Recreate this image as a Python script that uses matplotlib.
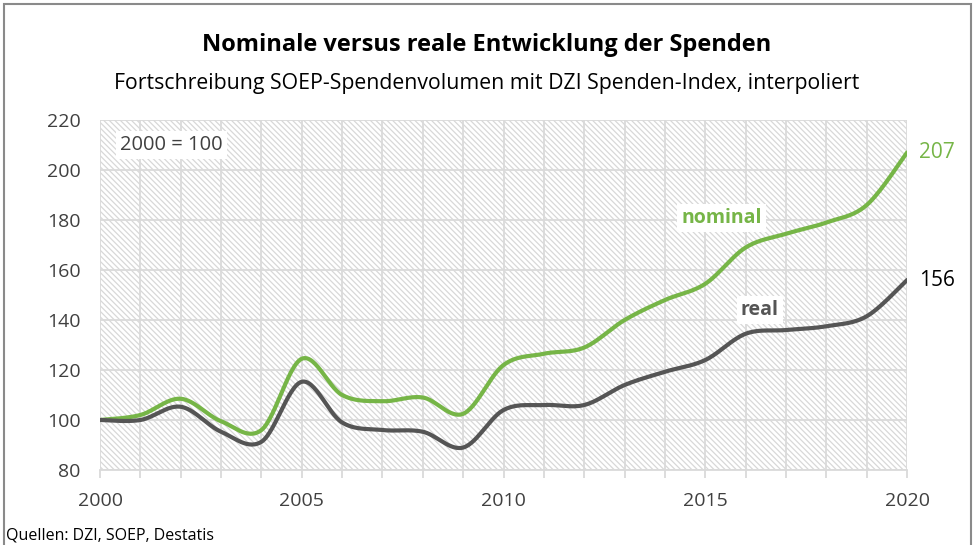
import numpy as np
import matplotlib
matplotlib.use("Agg")
import matplotlib.pyplot as plt
from matplotlib.patches import Rectangle

# Index values, 2000 = 100
years = list(range(2000, 2021))
nominal = [100, 102, 108.5, 99.5, 96, 124.5, 110, 107.5, 109, 102.5, 122,
           126.5, 129, 140, 148, 154.5, 169, 174.5, 179, 186, 207]
real = [100, 100, 105.3, 95.3, 91.3, 115.3, 99, 96, 95.3, 89, 104,
        106, 106, 114, 119.3, 124, 134.5, 136, 137.5, 141.5, 156]

green = "#76b547"
dark = "#555555"
grid_c = "#dadada"
text_c = "#404040"

plt.rcParams['font.family'] = ['Open Sans', 'DejaVu Sans']
plt.rcParams['hatch.linewidth'] = 0.9
plt.rcParams['hatch.color'] = "#d8d8d8"


def smooth(x, y, n=30):
    # Catmull-Rom curve through the yearly points (like Excel's smoothed line)
    x = np.asarray(x, float)
    y = np.asarray(y, float)
    px = np.concatenate([[x[0]], x, [x[-1]]])
    py = np.concatenate([[y[0]], y, [y[-1]]])
    xs, ys = [], []
    t = np.linspace(0, 1, n, endpoint=False)
    for i in range(1, len(px) - 2):
        for p, out in ((px, xs), (py, ys)):
            p0, p1, p2, p3 = p[i - 1], p[i], p[i + 1], p[i + 2]
            out.extend(0.5 * (2 * p1 + (-p0 + p2) * t
                              + (2 * p0 - 5 * p1 + 4 * p2 - p3) * t ** 2
                              + (-p0 + 3 * p1 - 3 * p2 + p3) * t ** 3))
    xs.append(x[-1])
    ys.append(y[-1])
    return xs, ys


fig = plt.figure(figsize=(9.74, 5.45), dpi=100)
ax = fig.add_axes([0.1027, 0.1376, 0.8286, 0.6422])

# hatched plot background
ax.add_patch(Rectangle((0, 0), 1, 1, transform=ax.transAxes, facecolor="white",
                       edgecolor="#d8d8d8", hatch="\\" * 6, linewidth=0, zorder=0))

ax.set_xlim(2000, 2020)
ax.set_ylim(80, 220)
ax.set_xticks(years)
ax.set_xticklabels([str(y) if y % 5 == 0 else "" for y in years])
ax.set_yticks(range(80, 221, 20))
ax.grid(True, color=grid_c, linewidth=1.3, zorder=1)
ax.set_axisbelow(True)
ax.tick_params(axis="x", length=6, color=grid_c, width=1.3, labelsize=14,
               labelcolor=text_c, pad=10)
ax.tick_params(axis="y", length=0, labelsize=14, labelcolor=text_c, pad=14)
for s in ["top", "right", "left"]:
    ax.spines[s].set_visible(False)
ax.spines["bottom"].set_color(grid_c)
ax.spines["bottom"].set_linewidth(1.3)

xs, ys = smooth(years, nominal)
ax.plot(xs, ys, color=green, linewidth=3, zorder=3, solid_capstyle="round")
xs, ys = smooth(years, real)
ax.plot(xs, ys, color=dark, linewidth=3, zorder=3, solid_capstyle="round")

box = dict(facecolor="white", edgecolor="none", pad=3)
ax.text(2000.5, 210, "2000 = 100", fontsize=14.5, color=text_c, va="center",
        bbox=box, zorder=4)
ax.text(2015.4, 180.8, "nominal", fontsize=14, color=green, fontweight="bold",
        ha="center", va="center", bbox=box, zorder=4)
ax.text(2016.35, 144, "real", fontsize=14, color=dark, fontweight="bold",
        ha="center", va="center", bbox=box, zorder=4)
ax.text(2020.3, nominal[-1], f"{nominal[-1]:.0f}", fontsize=15, color=green,
        va="center", ha="left", clip_on=False)
ax.text(2020.3, real[-1], f"{real[-1]:.0f}", fontsize=15, color="black",
        va="center", ha="left", clip_on=False)

fig.text(0.5, 0.918, "Nominale versus reale Entwicklung der Spenden",
         fontsize=17, fontweight="bold", ha="center", va="center")
fig.text(0.5, 0.846, "Fortschreibung SOEP-Spendenvolumen mit DZI Spenden-Index, interpoliert",
         fontsize=15.3, ha="center", va="center")
fig.text(0.006, 0.018, "Quellen: DZI, SOEP, Destatis", fontsize=11.5,
         ha="left", va="center")

# frame around the figure
fig.add_artist(Rectangle((0.004, -0.01), 0.993, 1.003, transform=fig.transFigure,
                         fill=False, edgecolor="#8a8a8a", linewidth=1.5))

fig.savefig("out.png", dpi=100)
